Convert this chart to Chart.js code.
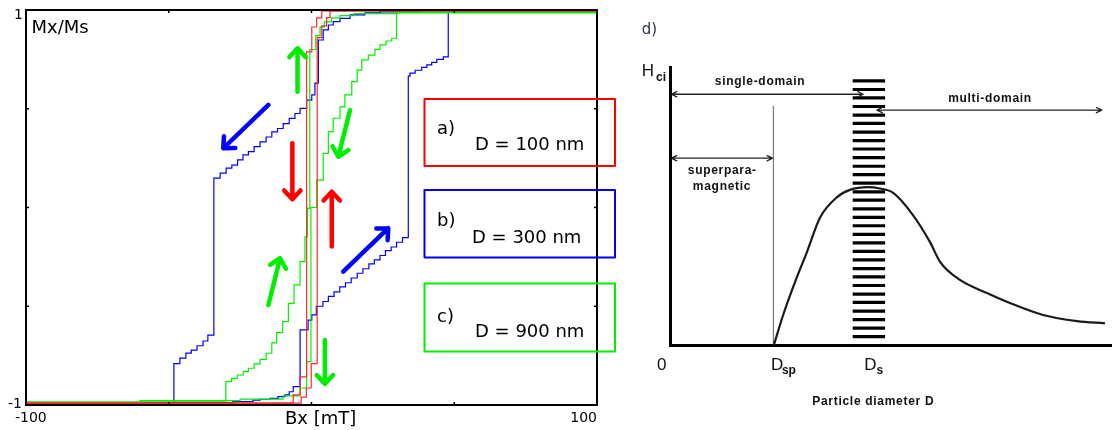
<!DOCTYPE html>
<html lang="en">
<head>
  <meta charset="UTF-8">
  <title>Hysteresis loops and coercivity vs particle size</title>
  <script src="https://cdn.jsdelivr.net/npm/chart.js"></script>
  <style>
    body { margin: 0; background: #fff; }
    .panel { position: absolute; top: 0; height: 430px; }
  </style>
</head>
<body>
<div class="panel" style="left:0;width:620px"><canvas id="loopChart"></canvas></div>
<div class="panel" style="left:620px;width:492px"><canvas id="sizeChart"></canvas></div>

<script>
  // ---- a) b) c): Mx/Ms vs Bx [mT]
  // stepped branches: each point = field where the jump happens, level after it
  const redDownB = [100, 3.6, 1.8, 0.1, -1.7, -4.0, -6.4, -100];
  const redDownM = [0.995, 0.96, 0.914, 0.788, -0.858, -0.949, -0.99, -0.99];
  const redUpB = [-100, -3.6, -1.8, -0.1, 2.0, 3.6, 5.3, 6.5, 100];
  const redUpM = [-0.99, -0.96, -0.914, -0.79, 0.86, 0.92, 0.961, 0.995, 0.995];

  const blueDownB = [100, 47.9, 46.2, 43.9, 42.1, 40.4, 38.6, 36.3, 34.5, 33.9, 31.9, 29.8, 27.9, 25.9, 24.0, 22.0,
    20.1, 18.0, 16.0, 13.9, 11.9, 9.9, 7.9, 5.9, 4.0, 1.7, 0.1, -1.2, -4.0, -6.4, -7.8, -9.3, -11.7, -14.5,
    -18.0, -20.5, -27.5, -48.5, -100];
  const blueDownM = [0.99, 0.763, 0.75, 0.735, 0.722, 0.71, 0.695, 0.68, 0.665, -0.153, -0.176, -0.2, -0.218,
    -0.243, -0.265, -0.285, -0.31, -0.333, -0.357, -0.381, -0.402, -0.427, -0.45, -0.476, -0.5, -0.544, -0.57,
    -0.62, -0.907, -0.933, -0.949, -0.958, -0.966, -0.971, -0.975, -0.983, -0.988, -0.99, -0.99];
  const blueUpB = [-100, -48.2, -46.1, -44.0, -42.1, -40.1, -38.0, -36.3, -34.2, -32.0, -29.9, -27.9, -25.9,
    -24.0, -22.1, -20.1, -18.0, -15.9, -13.9, -11.9, -9.9, -7.8, -5.8, -4.0, -1.7, 0.1, 1.2, 2.4, 4.1, 5.9, 7.6,
    10.0, 13.5, 18.7, 24.0, 38.0, 100];
  const blueUpM = [-0.99, -0.79, -0.763, -0.737, -0.722, -0.70, -0.676, -0.646, 0.149, 0.174, 0.199, 0.215,
    0.241, 0.266, 0.283, 0.308, 0.332, 0.357, 0.383, 0.40, 0.425, 0.451, 0.476, 0.502, 0.544, 0.57, 0.63, 0.848,
    0.899, 0.924, 0.941, 0.958, 0.975, 0.985, 0.991, 0.997, 0.997];

  const greenDownB = [100, 29.8, 28.1, 26.1, 24.0, 22.2, 19.9, 17.6, 16.0, 14.1, 11.7, 10.0, 7.6, 5.9, 4.1, 1.8,
    -0.2, -1.7, -4.0, -10, -25, -60, -100];
  const greenDownM = [0.985, 0.857, 0.843, 0.823, 0.801, 0.772, 0.747, 0.696, 0.637, 0.57, 0.51, 0.452, 0.384,
    0.274, 0.139, 0.0, -0.78, -0.914, -0.954, -0.97, -0.978, -0.985, -0.99];
  const greenUpB = [-100, -60, -30.0, -28.0, -26.0, -23.9, -22.1, -20.1, -18.0, -15.9, -13.9, -12.2, -10.1,
    -8.1, -6.1, -4.0, -2.3, -1.4, -0.6, 1.5, 3.0, 4.5, 7.0, 10.0, 15.0, 30.0, 100];
  const greenUpM = [-0.985, -0.98, -0.882, -0.865, -0.848, -0.831, -0.814, -0.792, -0.769, -0.738, -0.685,
    -0.634, -0.578, -0.485, -0.392, -0.274, -0.148, -0.004, 0.80, 0.87, 0.915, 0.94, 0.96, 0.972, 0.982, 0.988, 0.99];

  const fieldTicks = [-50, 0, 50];
  const momentTicks = [-0.5, 0, 0.5];

  // direction arrows (start -> end, in field / moment units)
  const arrowB0 = [-15.1, 11.1, -4.9, 13.5, -15.1, 4.7, -6.7, 7.1];
  const arrowM0 = [0.519, -0.325, 0.586, 0.494, -0.494, -0.671, 0.325, -0.198];
  const arrowB1 = [-30.9, 26.9, -4.9, 9.4, -11.0, 4.7, -6.7, 7.1];
  const arrowM1 = [0.30, -0.105, 0.806, 0.257, -0.257, -0.893, 0.042, 0.08];

  const sizeTags = ['a)', 'b)', 'c)'];
  const sizeLabels = ['D = 100 nm', 'D = 300 nm', 'D = 900 nm'];

  // ---- d): Hci vs particle diameter (arbitrary units)
  const diamD = [23.5, 25.6, 28.3, 31.0, 33.9, 37.8, 40.7, 44.8, 47.5, 50.5, 54.8, 58.8, 61.1, 65.6, 71.7,
    76.9, 84.4, 92.1, 98.4];
  const coercH = [0, 10.8, 22.7, 33.5, 45.7, 53.2, 55.8, 56.8, 56.3, 54.7, 47.1, 37.1, 29.9, 23.4, 18.7, 15.1,
    10.8, 8.6, 7.8];
  const dSp = 23.4;
  const dS = 45.0;
  const hatchH = [3.0, 6.1, 9.1, 12.2, 15.3, 18.3, 21.4, 24.5, 27.5, 30.6, 33.7, 36.7, 39.8, 42.9, 45.9, 49.0,
    52.1, 55.1, 58.2, 61.3, 64.3, 67.4, 70.5, 73.5, 76.6, 79.7, 82.7, 85.8, 88.9, 91.9, 95.0];
  const dSpTop = 86;
  const spanFrom = [0.3, 46.8, 0.3];
  const spanTo = [43.7, 97.7, 23.2];
  const spanLevel = [90.2, 84.5, 67.2];

  const pts = (xs, ys) => xs.map((v, i) => ({ x: v, y: ys[i] }));

  function drawArrow(ctx, x0, y0, x1, y1, color, width, head, spread, both) {
    const ang = Math.atan2(y1 - y0, x1 - x0);
    ctx.strokeStyle = color;
    ctx.lineWidth = width;
    ctx.lineCap = 'round';
    ctx.lineJoin = 'round';
    ctx.beginPath();
    ctx.moveTo(x0, y0);
    ctx.lineTo(x1, y1);
    ctx.moveTo(x1 - head * Math.cos(ang - spread), y1 - head * Math.sin(ang - spread));
    ctx.lineTo(x1, y1);
    ctx.lineTo(x1 - head * Math.cos(ang + spread), y1 - head * Math.sin(ang + spread));
    if (both) {
      ctx.moveTo(x0 + head * Math.cos(ang - spread), y0 + head * Math.sin(ang - spread));
      ctx.lineTo(x0, y0);
      ctx.lineTo(x0 + head * Math.cos(ang + spread), y0 + head * Math.sin(ang + spread));
    }
    ctx.stroke();
  }

  const loopExtras = {
    id: 'loopExtras',
    afterDatasetsDraw(chart) {
      const { ctx, chartArea: a, scales: { x, y } } = chart;
      ctx.save();
      ctx.strokeStyle = '#000';
      ctx.lineWidth = 2;
      ctx.strokeRect(a.left, a.top, a.width, a.height);

      ctx.lineWidth = 1.5;
      ctx.beginPath();
      fieldTicks.forEach(v => {
        const px = x.getPixelForValue(v);
        ctx.moveTo(px, a.top); ctx.lineTo(px, a.top + 3);
        ctx.moveTo(px, a.bottom); ctx.lineTo(px, a.bottom - 3);
      });
      momentTicks.forEach(v => {
        const py = y.getPixelForValue(v);
        ctx.moveTo(a.left, py); ctx.lineTo(a.left + 3, py);
        ctx.moveTo(a.right, py); ctx.lineTo(a.right - 3, py);
      });
      ctx.stroke();

      const arrowColors = ['#0000ff', '#0000ff', '#00ee00', '#00ee00', '#00ee00', '#00ee00', '#ff0000', '#ff0000'];
      arrowB0.forEach((b, i) => {
        drawArrow(ctx, x.getPixelForValue(b), y.getPixelForValue(arrowM0[i]),
          x.getPixelForValue(arrowB1[i]), y.getPixelForValue(arrowM1[i]), arrowColors[i], 4.5, 12, 0.75, false);
      });

      // size boxes
      const boxColors = ['#ff0000', '#0000ff', '#00ee00'];
      const boxTop = [99, 190, 283.5];
      const boxBottom = [166, 257.5, 351.5];
      const tagBase = [133.5, 226, 321.5];
      const textBase = [150, 243, 337];
      const textLeft = [475, 472, 475];
      ctx.lineWidth = 2;
      ctx.font = '18px "DejaVu Sans"';
      ctx.textAlign = 'left';
      ctx.textBaseline = 'alphabetic';
      sizeTags.forEach((t, i) => {
        ctx.strokeStyle = boxColors[i];
        ctx.strokeRect(424.5, boxTop[i], 190.5, boxBottom[i] - boxTop[i]);
        ctx.fillStyle = '#000';
        ctx.fillText(t, 437, tagBase[i]);
        ctx.fillText(sizeLabels[i], textLeft[i], textBase[i]);
      });

      // axis texts
      ctx.fillStyle = '#000';
      ctx.fillText('Mx/Ms', a.left + 5.5, a.top + 23);
      ctx.fillText('Bx [mT]', 285, 423.5);
      ctx.font = '14px "DejaVu Sans"';
      ctx.fillText('-100', a.left - 11, 422);
      ctx.textAlign = 'right';
      ctx.fillText('100', a.right, 422);
      ctx.fillText('1', a.left - 3, a.top + 8.5);
      ctx.fillText('-1', a.left - 4, a.bottom + 3);
      ctx.restore();
    }
  };

  const stepLine = (data, color) => ({
    data, borderColor: color, borderWidth: 1.2, stepped: 'before', pointRadius: 0, fill: false
  });

  new Chart(document.getElementById('loopChart'), {
    type: 'line',
    data: {
      datasets: [
        stepLine(pts(redDownB, redDownM), '#ff2a2a'),
        stepLine(pts(redUpB, redUpM), '#ff2a2a'),
        stepLine(pts(greenDownB, greenDownM), '#00f000'),
        stepLine(pts(greenUpB, greenUpM), '#00f000'),
        stepLine(pts(blueDownB, blueDownM), '#0000ff'),
        stepLine(pts(blueUpB, blueUpM), '#0000ff')
      ]
    },
    options: {
      responsive: true,
      maintainAspectRatio: false,
      animation: false,
      layout: { autoPadding: false, padding: { left: 26, right: 23, top: 10, bottom: 25 } },
      plugins: { legend: { display: false }, tooltip: { enabled: false } },
      scales: {
        x: { type: 'linear', min: -100, max: 100, display: false },
        y: { type: 'linear', min: -1, max: 1, display: false }
      }
    },
    plugins: [loopExtras]
  });

  const sizeExtras = {
    id: 'sizeExtras',
    afterDatasetsDraw(chart) {
      const { ctx, scales: { x, y } } = chart;
      const px = v => x.getPixelForValue(v);
      const py = v => y.getPixelForValue(v);
      ctx.save();
      spanFrom.forEach((d, i) => {
        drawArrow(ctx, px(d), py(spanLevel[i]), px(spanTo[i]), py(spanLevel[i]), '#222', 1.3, 6, 0.45, true);
      });

      ctx.fillStyle = '#111';
      ctx.textBaseline = 'alphabetic';
      ctx.textAlign = 'center';
      ctx.font = 'bold 12px "Liberation Sans"';
      ctx.letterSpacing = '0.7px';
      ctx.fillText('single-domain', 140, 84.5);
      ctx.fillText('multi-domain', 370, 101.5);
      ctx.fillText('superpara-', 102.3, 173.5);
      ctx.fillText('magnetic', 102, 190);
      ctx.fillText('Particle diameter D', 253.3, 404.5);
      ctx.letterSpacing = '0px';

      ctx.textAlign = 'left';
      ctx.font = '17px "Liberation Sans"';
      ctx.fillText('H', 21.7, 75.7);
      ctx.fillText('D', px(dSp) - 2.5, 370);
      ctx.fillText('D', px(dS) - 4.6, 370);
      ctx.textAlign = 'center';
      ctx.fillText('0', px(0) - 8.3, 370);
      ctx.textAlign = 'left';
      ctx.font = 'bold 12px "Liberation Sans"';
      ctx.fillText('ci', 36, 80.5);
      ctx.fillText('sp', px(dSp) + 8.5, 373.5);
      ctx.fillText('s', px(dS) + 7.5, 373.5);

      ctx.fillStyle = '#2a3550';
      ctx.font = '15px "DejaVu Sans"';
      ctx.fillText('d)', 21.7, 34);
      ctx.restore();
    }
  };

  const plainAxis = (min, max) => ({
    type: 'linear', min, max,
    ticks: { display: false },
    grid: { display: false, drawTicks: false },
    border: { display: true, color: '#000', width: 3 }
  });

  new Chart(document.getElementById('sizeChart'), {
    type: 'line',
    data: {
      datasets: [
        {
          data: pts(diamD, coercH),
          borderColor: '#1a1a1a', borderWidth: 2.2, cubicInterpolationMode: 'monotone',
          pointRadius: 0, fill: false
        },
        {
          data: hatchH.map(h => ({ x: dS, y: h })),
          showLine: false, pointStyle: 'line', pointRadius: 16.2,
          pointBorderWidth: 3.2, borderColor: '#000'
        },
        {
          data: [{ x: dSp, y: 0 }, { x: dSp, y: dSpTop }],
          borderColor: '#808080', borderWidth: 1.3, pointRadius: 0, fill: false
        }
      ]
    },
    options: {
      responsive: true,
      maintainAspectRatio: false,
      animation: false,
      layout: { autoPadding: false, padding: { left: 50, right: 0, top: 67, bottom: 85 } },
      plugins: { legend: { display: false }, tooltip: { enabled: false } },
      scales: { x: plainAxis(0, 100), y: plainAxis(0, 100) }
    },
    plugins: [sizeExtras]
  });
</script>
</body>
</html>
